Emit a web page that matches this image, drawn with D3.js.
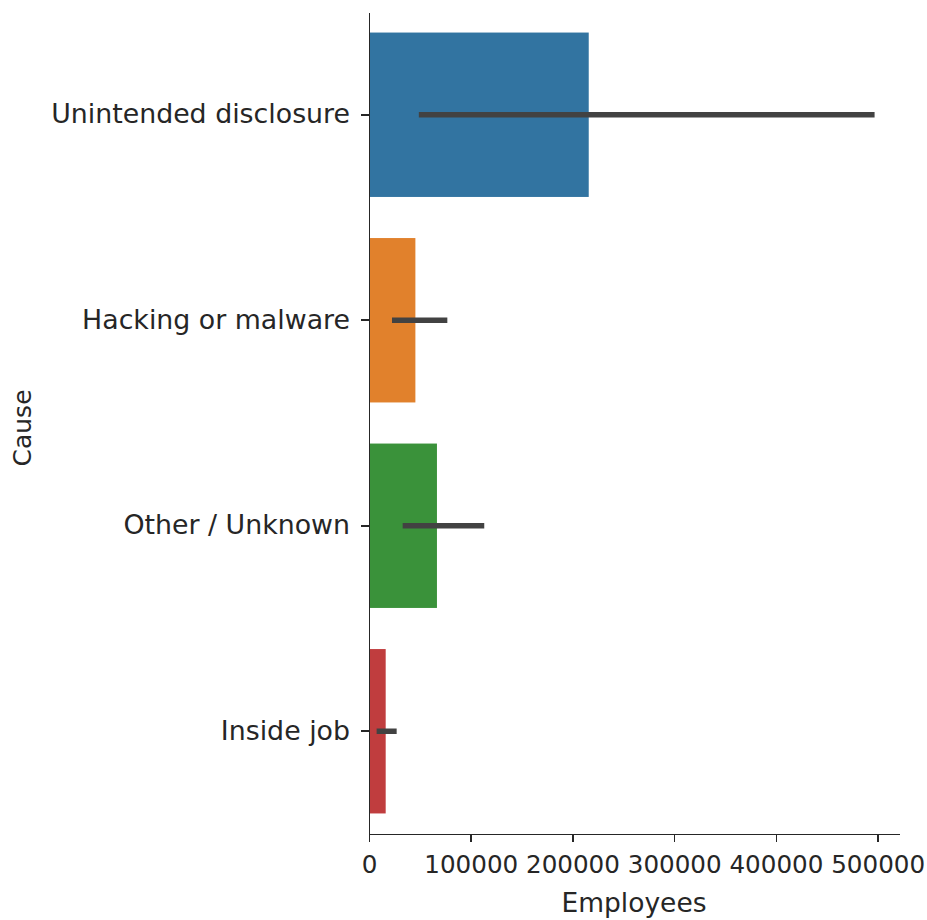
<!DOCTYPE html>
<html>
<head>
<meta charset="utf-8">
<script src="https://cdn.jsdelivr.net/npm/d3@7"></script>
<style>
  body { margin: 0; background: #fff; }
  svg text { font-family: "DejaVu Sans", sans-serif; fill: #262626; }
  .axis path, .axis line { stroke: #262626; stroke-width: 1.6; shape-rendering: crispEdges; }
  .axis text { font-size: 26.8px; }
  .x.axis text { font-size: 24.6px; }
</style>
</head>
<body>
<div id="chart"></div>
<script>
// data
var causes = ["Unintended disclosure", "Hacking or malware", "Other / Unknown", "Inside job"];
var means  = [216000, 45600, 66800, 16400];
var ciLow  = [49000, 22600, 33100, 7500];
var ciHigh = [497000, 77000, 113300, 27200];
var colors = ["#3274a1", "#e1812c", "#3a923a", "#c03d3e"];
var xTicks = [0, 100000, 200000, 300000, 400000, 500000];
var xMax = 521000;

var width = 927, height = 920;
var margin = {top: 12, right: 28, bottom: 86, left: 369};

var svg = d3.select("#chart").append("svg")
  .attr("width", width)
  .attr("height", height);

var x = d3.scaleLinear()
  .domain([0, xMax])
  .range([margin.left, width - margin.right]);

var y = d3.scaleBand()
  .domain(causes)
  .range([margin.top, height - margin.bottom])
  .paddingInner(0.2)
  .paddingOuter(0.1);

var rows = causes.map(function(c, i) {
  return {cause: c, mean: means[i], lo: ciLow[i], hi: ciHigh[i], color: colors[i]};
});

// bars
svg.append("g").selectAll("rect")
  .data(rows).enter()
  .append("rect")
  .attr("x", x(0))
  .attr("y", function(d) { return y(d.cause); })
  .attr("width", function(d) { return x(d.mean) - x(0); })
  .attr("height", y.bandwidth())
  .attr("fill", function(d) { return d.color; });

// error bars
svg.append("g").selectAll("line")
  .data(rows).enter()
  .append("line")
  .attr("x1", function(d) { return x(d.lo); })
  .attr("x2", function(d) { return x(d.hi); })
  .attr("y1", function(d) { return y(d.cause) + y.bandwidth() / 2; })
  .attr("y2", function(d) { return y(d.cause) + y.bandwidth() / 2; })
  .attr("stroke", "#424242")
  .attr("stroke-width", 5.5);

// axes
var xAxis = d3.axisBottom(x)
  .tickValues(xTicks)
  .tickFormat(d3.format("d"))
  .tickSize(8)
  .tickSizeOuter(0)
  .tickPadding(14);

svg.append("g")
  .attr("class", "x axis")
  .attr("transform", "translate(0," + (height - margin.bottom) + ")")
  .call(xAxis);

var yAxis = d3.axisLeft(y)
  .tickSize(8)
  .tickSizeOuter(0)
  .tickPadding(11);

svg.append("g")
  .attr("class", "y axis")
  .attr("transform", "translate(" + margin.left + ",0)")
  .call(yAxis);

// axis labels
svg.append("text")
  .attr("x", (x(0) + x(xMax)) / 2)
  .attr("y", 912)
  .attr("text-anchor", "middle")
  .style("font-size", "26.5px")
  .text("Employees");

svg.append("text")
  .attr("transform", "translate(31,428) rotate(-90)")
  .attr("text-anchor", "middle")
  .style("font-size", "25px")
  .text("Cause");
</script>
</body>
</html>
